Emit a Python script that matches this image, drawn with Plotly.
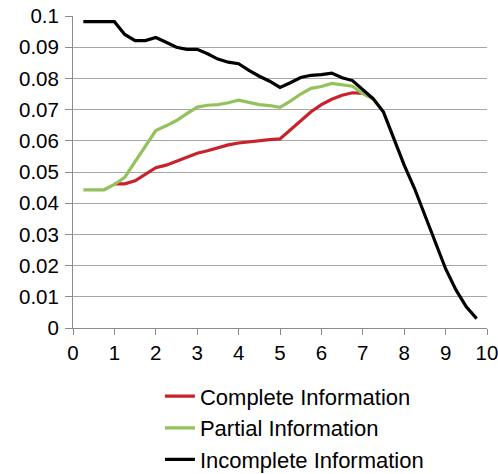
import plotly.graph_objects as go

# Data
x_complete = [1.0, 1.25, 1.5, 1.75, 2.0, 2.25, 2.5, 2.75, 3.0, 3.25, 3.5, 3.75, 4.0,
              4.25, 4.5, 4.75, 5.0, 5.25, 5.5, 5.75, 6.0, 6.25, 6.5, 6.75, 7.0, 7.25]
y_complete = [0.0462, 0.0462, 0.0472, 0.0492, 0.0514, 0.0522, 0.0535, 0.0548, 0.0560,
              0.0568, 0.0578, 0.0587, 0.0593, 0.0597, 0.0601, 0.0604, 0.0606, 0.0635,
              0.0666, 0.0693, 0.0716, 0.0733, 0.0746, 0.0754, 0.0752, 0.0735]

x_partial = [0.25, 0.5, 0.75, 1.0, 1.25, 1.5, 1.75, 2.0, 2.25, 2.5, 2.75, 3.0, 3.25, 3.5,
             3.75, 4.0, 4.25, 4.5, 4.75, 5.0, 5.25, 5.5, 5.75, 6.0, 6.25, 6.5, 6.75, 7.0, 7.25]
y_partial = [0.0443, 0.0443, 0.0443, 0.0460, 0.0483, 0.0533, 0.0583, 0.0633, 0.0648,
             0.0665, 0.0687, 0.0708, 0.0714, 0.0716, 0.0722, 0.0730, 0.0723, 0.0716,
             0.0713, 0.0707, 0.0727, 0.0750, 0.0768, 0.0774, 0.0784, 0.0780, 0.0775,
             0.0751, 0.0735]

x_incomplete = [0.25, 0.5, 0.75, 1.0, 1.25, 1.5, 1.75, 2.0, 2.25, 2.5, 2.75, 3.0, 3.25,
                3.5, 3.75, 4.0, 4.25, 4.5, 4.75, 5.0, 5.25, 5.5, 5.75, 6.0, 6.25, 6.5,
                6.75, 7.0, 7.25, 7.5, 7.75, 8.0, 8.25, 8.5, 8.75, 9.0, 9.25, 9.5, 9.75]
y_incomplete = [0.0982, 0.0982, 0.0982, 0.0982, 0.0941, 0.0921, 0.0921, 0.0931, 0.0916,
                0.0900, 0.0893, 0.0893, 0.0879, 0.0862, 0.0852, 0.0847, 0.0826, 0.0807,
                0.0791, 0.0771, 0.0786, 0.0803, 0.0810, 0.0812, 0.0817, 0.0802, 0.0793,
                0.0765, 0.0735, 0.0692, 0.0610, 0.0522, 0.0447, 0.0360, 0.0273, 0.0190,
                0.0122, 0.0068, 0.0030]

series_names = ["Complete Information", "Partial Information", "Incomplete Information"]
series_colors = ["#c8222b", "#93c15b", "#000000"]

FONT = "Liberation Sans, Arial, sans-serif"
GRID = "#a6a6a6"
AXIS = "#8c8c8c"

fig = go.Figure()
for i, (xs, ys) in enumerate([(x_complete, y_complete), (x_partial, y_partial),
                              (x_incomplete, y_incomplete)]):
    fig.add_trace(go.Scatter(
        x=xs, y=ys, mode="lines", name=series_names[i],
        line=dict(color=series_colors[i], width=3.2),
        legendgroup=f"g{i}",
    ))

fig.update_layout(
    width=498, height=474,
    margin=dict(l=73, r=11, t=16, b=146, pad=0, autoexpand=False),
    paper_bgcolor="white", plot_bgcolor="white",
    font=dict(family=FONT, size=20, color="#000000"),
    showlegend=True,
    legend=dict(
        x=0.21, xanchor="left", y=-0.152, yanchor="top",
        font=dict(family=FONT, size=22, color="#000000"),
        traceorder="grouped", tracegroupgap=0,
        bgcolor="rgba(0,0,0,0)", itemwidth=30,
    ),
    xaxis=dict(
        range=[0, 10], dtick=1, tick0=0, showgrid=False, zeroline=False,
        showline=True, linecolor=AXIS, linewidth=1, automargin=False,
        ticks="outside", ticklen=6, tickcolor=AXIS, tickwidth=1,
        tickfont=dict(family=FONT, size=20.5), ticklabeloverflow="allow",
    ),
    yaxis=dict(
        range=[0, 0.1], dtick=0.01, tick0=0, showgrid=True, gridcolor=GRID,
        gridwidth=1, zeroline=False, automargin=False,
        showline=True, linecolor=AXIS, linewidth=1,
        ticks="outside", ticklen=7, tickcolor=AXIS, tickwidth=1,
        tickfont=dict(family=FONT, size=20.5), ticklabeloverflow="allow",
        ticklabelstandoff=2,
    ),
)

# remove the page's default 8px body margin so the figure fills the window
fig.write_html("out.html", config={"displayModeBar": False},
               post_script="document.body.style.margin='0px';")
